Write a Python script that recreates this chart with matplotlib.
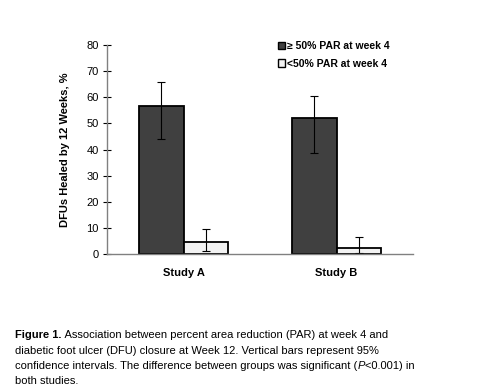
import matplotlib.pyplot as plt
import numpy as np
from matplotlib.patches import Patch

plt.rcParams['font.family'] = ['Liberation Sans', 'DejaVu Sans']

# data
studies = ['Study A', 'Study B']
par_hi = [56.5, 52.0]
par_hi_lo = [44.0, 38.5]
par_hi_up = [66.0, 60.5]
par_lo = [4.5, 2.2]
par_lo_lo = [1.0, 0.3]
par_lo_up = [9.5, 6.6]
labels = ['\u2265 50% PAR at week 4', '<50% PAR at week 4']

fig = plt.figure(figsize=(4.78, 3.89), dpi=100)
ax = fig.add_axes([0.224, 0.347, 0.64, 0.537])

x = np.arange(len(studies))
w = 0.29
err_hi = [np.subtract(par_hi, par_hi_lo), np.subtract(par_hi_up, par_hi)]
err_lo = [np.subtract(par_lo, par_lo_lo), np.subtract(par_lo_up, par_lo)]

ax.bar(x - w / 2, par_hi, w, color='#404040', edgecolor='black', linewidth=1.3,
       yerr=err_hi, error_kw=dict(ecolor='black', elinewidth=0.8, capsize=3, capthick=0.8))
ax.bar(x + w / 2, par_lo, w, color='#f2f2f2', edgecolor='black', linewidth=1.3,
       yerr=err_lo, error_kw=dict(ecolor='black', elinewidth=0.8, capsize=3, capthick=0.8))

ax.set_xlim(-0.5, 1.5)
ax.set_ylim(0, 80)
ax.set_yticks(range(0, 81, 10))
ax.set_xticks(x)
ax.set_xticklabels(studies, fontsize=8, fontweight='bold')
ax.tick_params(axis='x', length=0, pad=10)
ax.tick_params(axis='y', direction='inout', length=6, width=0.8, colors='black', labelsize=8, pad=3)
for s in ['top', 'right']:
    ax.spines[s].set_visible(False)
for s in ['left', 'bottom']:
    ax.spines[s].set_color('#808080')
    ax.spines[s].set_linewidth(1.0)
ax.set_ylabel('DFUs Healed by 12 Weeks, %', fontsize=8, fontweight='bold', labelpad=12)

handles = [Patch(facecolor='#404040', edgecolor='black', linewidth=1.0),
           Patch(facecolor='#f2f2f2', edgecolor='black', linewidth=1.0)]
fig.legend(handles, labels, loc='upper left', bbox_to_anchor=(0.562, 0.918),
           frameon=False, handlelength=0.7, handleheight=0.7, handletextpad=0.2,
           labelspacing=0.7, prop=dict(size=7.5, weight='bold'))

# caption
fs = 8
t1 = fig.text(15 / 478, 1 - 338 / 389, 'Figure 1.', fontsize=fs, fontweight='bold')
ax.annotate(' Association between percent area reduction (PAR) at week 4 and',
            xy=(1, 0), xycoords=t1, fontsize=fs, va='bottom', ha='left', annotation_clip=False)
fig.text(15 / 478, 1 - 353.5 / 389,
         'diabetic foot ulcer (DFU) closure at Week 12. Vertical bars represent 95%', fontsize=fs)
t3 = fig.text(15 / 478, 1 - 369 / 389,
              'confidence intervals. The difference between groups was significant (', fontsize=fs)
t4 = ax.annotate('P', xy=(1, 0), xycoords=t3, fontsize=fs, style='italic',
                 va='bottom', ha='left', annotation_clip=False)
ax.annotate('<0.001) in', xy=(1, 0), xycoords=t4, fontsize=fs,
            va='bottom', ha='left', annotation_clip=False)
fig.text(15 / 478, 1 - 384.5 / 389, 'both studies.', fontsize=fs)

fig.savefig('out.png', dpi=100)
